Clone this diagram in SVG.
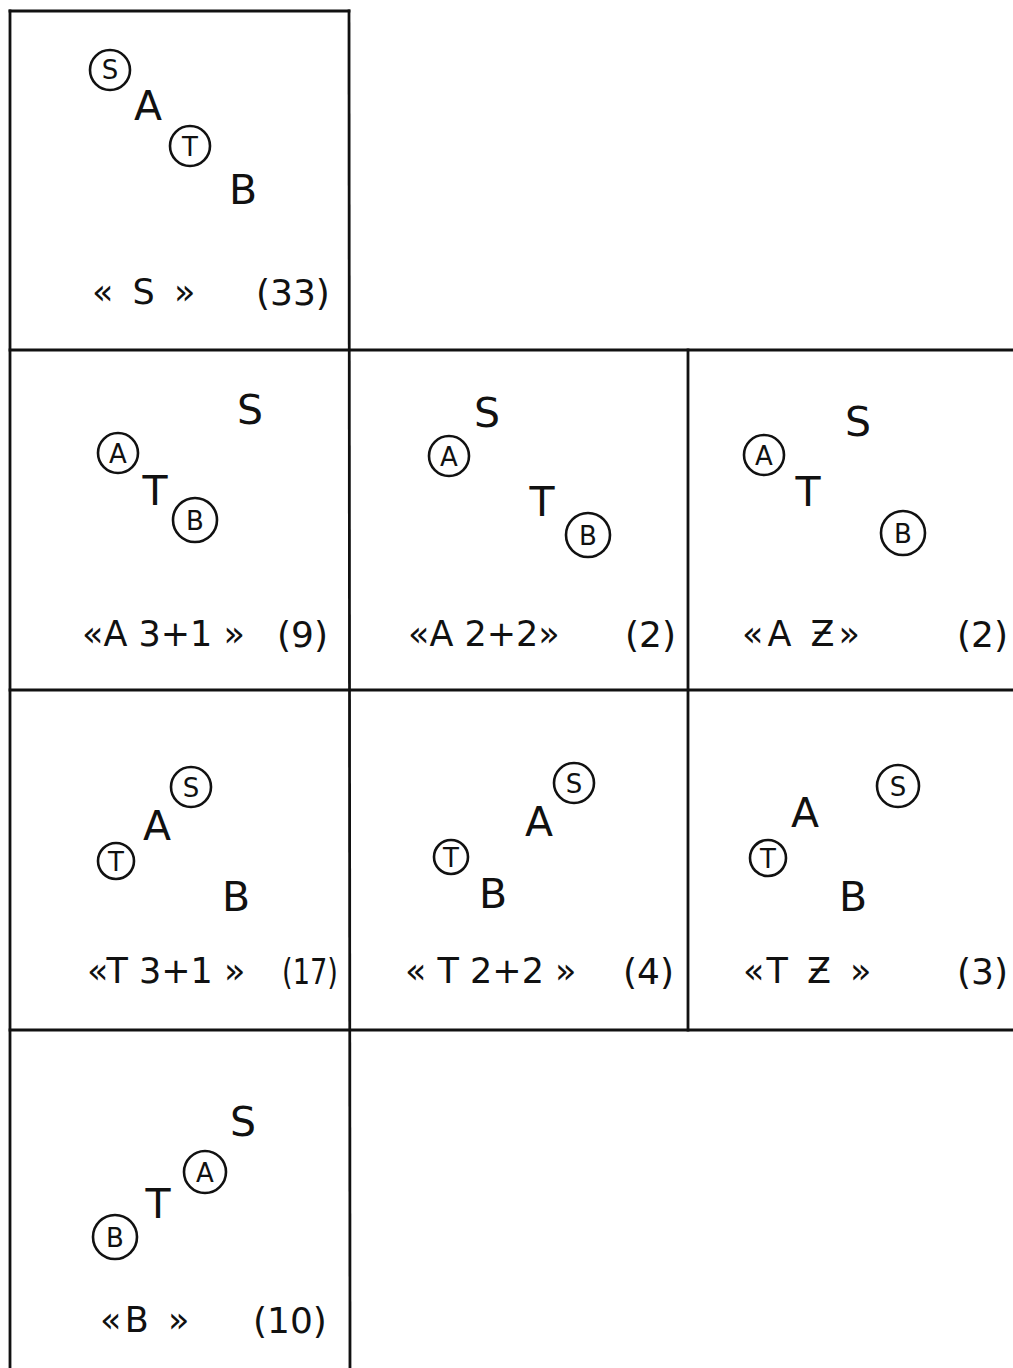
<svg xmlns="http://www.w3.org/2000/svg" width="1013" height="1368" viewBox="0 0 1013 1368">
<style>
.grid{stroke:#111;stroke-width:2.8;fill:none;stroke-linecap:square}
.let{font-family:"DejaVu Sans","Liberation Sans",sans-serif;font-size:41px;fill:#111;text-anchor:middle;dominant-baseline:central}
.cl{font-family:"DejaVu Sans","Liberation Sans",sans-serif;font-size:26px;fill:#111;text-anchor:middle;dominant-baseline:central}
.ring{fill:none;stroke:#111;stroke-width:2.6}
.lab{font-family:"DejaVu Sans","Liberation Sans",sans-serif;font-size:35px;fill:#111;dominant-baseline:central}
.wide{letter-spacing:4px}
.num{font-family:"DejaVu Sans","Liberation Sans",sans-serif;font-size:36px;fill:#111;dominant-baseline:central}
</style>
<rect width="1013" height="1368" fill="#fff"/>
<g id="grid" class="grid">
<line x1="10" y1="11" x2="349" y2="11"/>
<line x1="10" y1="11" x2="10" y2="1368"/>
<line x1="349" y1="11" x2="350" y2="1368"/>
<line x1="688" y1="350" x2="688" y2="1030"/>
<line x1="10" y1="350" x2="1013" y2="350"/>
<line x1="10" y1="690" x2="1013" y2="690"/>
<line x1="10" y1="1030" x2="1013" y2="1030"/>
</g>
<g id="connectors"/>
<g id="panel-S">
<g id="p1-S"><circle class="ring" cx="110" cy="70" r="20"/><text class="cl" x="110" y="70">S</text></g>
<g id="p1-A"><text class="let" x="148" y="106">A</text></g>
<g id="p1-T"><circle class="ring" cx="190" cy="146" r="20"/><text class="cl" x="190" y="147">T</text></g>
<g id="p1-B"><text class="let" x="243" y="190">B</text></g>
<text class="lab wide" x="92" y="292">« S »</text>
<text class="num" x="256" y="292">(33)</text>
</g>
<g id="panel-A31">
<g id="p2-S"><text class="let" x="250" y="410">S</text></g>
<g id="p2-A"><circle class="ring" cx="118" cy="453" r="20"/><text class="cl" x="118" y="454">A</text></g>
<g id="p2-T"><text class="let" x="155" y="491">T</text></g>
<g id="p2-B"><circle class="ring" cx="195" cy="520" r="22"/><text class="cl" x="195" y="521">B</text></g>
<text class="lab" x="82" y="634">«A 3+1 »</text>
<text class="num" x="277" y="634">(9)</text>
</g>
<g id="panel-A22">
<g id="p3-S"><text class="let" x="487" y="413">S</text></g>
<g id="p3-A"><circle class="ring" cx="449" cy="456" r="20"/><text class="cl" x="449" y="457">A</text></g>
<g id="p3-T"><text class="let" x="542" y="502">T</text></g>
<g id="p3-B"><circle class="ring" cx="588" cy="535" r="22"/><text class="cl" x="588" y="536">B</text></g>
<text class="lab" x="408" y="634">«A 2+2»</text>
<text class="num" x="625" y="634">(2)</text>
</g>
<g id="panel-AZ">
<g id="p4-S"><text class="let" x="858" y="422">S</text></g>
<g id="p4-A"><circle class="ring" cx="764" cy="455" r="20"/><text class="cl" x="764" y="456">A</text></g>
<g id="p4-T"><text class="let" x="808" y="492">T</text></g>
<g id="p4-B"><circle class="ring" cx="903" cy="533" r="22"/><text class="cl" x="903" y="534">B</text></g>
<text class="lab wide" x="742" y="634">«A Ƶ»</text>
<text class="num" x="957" y="634">(2)</text>
</g>
<g id="panel-T31">
<g id="p5-S"><circle class="ring" cx="191" cy="787" r="20"/><text class="cl" x="191" y="788">S</text></g>
<g id="p5-A"><text class="let" x="157" y="826">A</text></g>
<g id="p5-T"><circle class="ring" cx="116" cy="861" r="18"/><text class="cl" x="116" y="862">T</text></g>
<g id="p5-B"><text class="let" x="236" y="897">B</text></g>
<text class="lab" x="87" y="971">«T 3+1 »</text>
<text class="num" x="282" y="971" textLength="56" lengthAdjust="spacingAndGlyphs">(17)</text>
</g>
<g id="panel-T22">
<g id="p6-S"><circle class="ring" cx="574" cy="783" r="20"/><text class="cl" x="574" y="784">S</text></g>
<g id="p6-A"><text class="let" x="539" y="822">A</text></g>
<g id="p6-T"><circle class="ring" cx="451" cy="857" r="17"/><text class="cl" x="451" y="858">T</text></g>
<g id="p6-B"><text class="let" x="493" y="894">B</text></g>
<text class="lab" x="405" y="971">« T 2+2 »</text>
<text class="num" x="623" y="971">(4)</text>
</g>
<g id="panel-TZ">
<g id="p7-S"><circle class="ring" cx="898" cy="786" r="21"/><text class="cl" x="898" y="787">S</text></g>
<g id="p7-A"><text class="let" x="805" y="813">A</text></g>
<g id="p7-T"><circle class="ring" cx="768" cy="858" r="18"/><text class="cl" x="768" y="859">T</text></g>
<g id="p7-B"><text class="let" x="853" y="897">B</text></g>
<text class="lab wide" x="743" y="971">«T Ƶ »</text>
<text class="num" x="957" y="971">(3)</text>
</g>
<g id="panel-B">
<g id="p8-S"><text class="let" x="243" y="1122">S</text></g>
<g id="p8-A"><circle class="ring" cx="205" cy="1172" r="21"/><text class="cl" x="205" y="1173">A</text></g>
<g id="p8-T"><text class="let" x="158" y="1204">T</text></g>
<g id="p8-B"><circle class="ring" cx="115" cy="1237" r="22"/><text class="cl" x="115" y="1238">B</text></g>
<text class="lab wide" x="100" y="1320">«B »</text>
<text class="num" x="253" y="1320">(10)</text>
</g>
</svg>
